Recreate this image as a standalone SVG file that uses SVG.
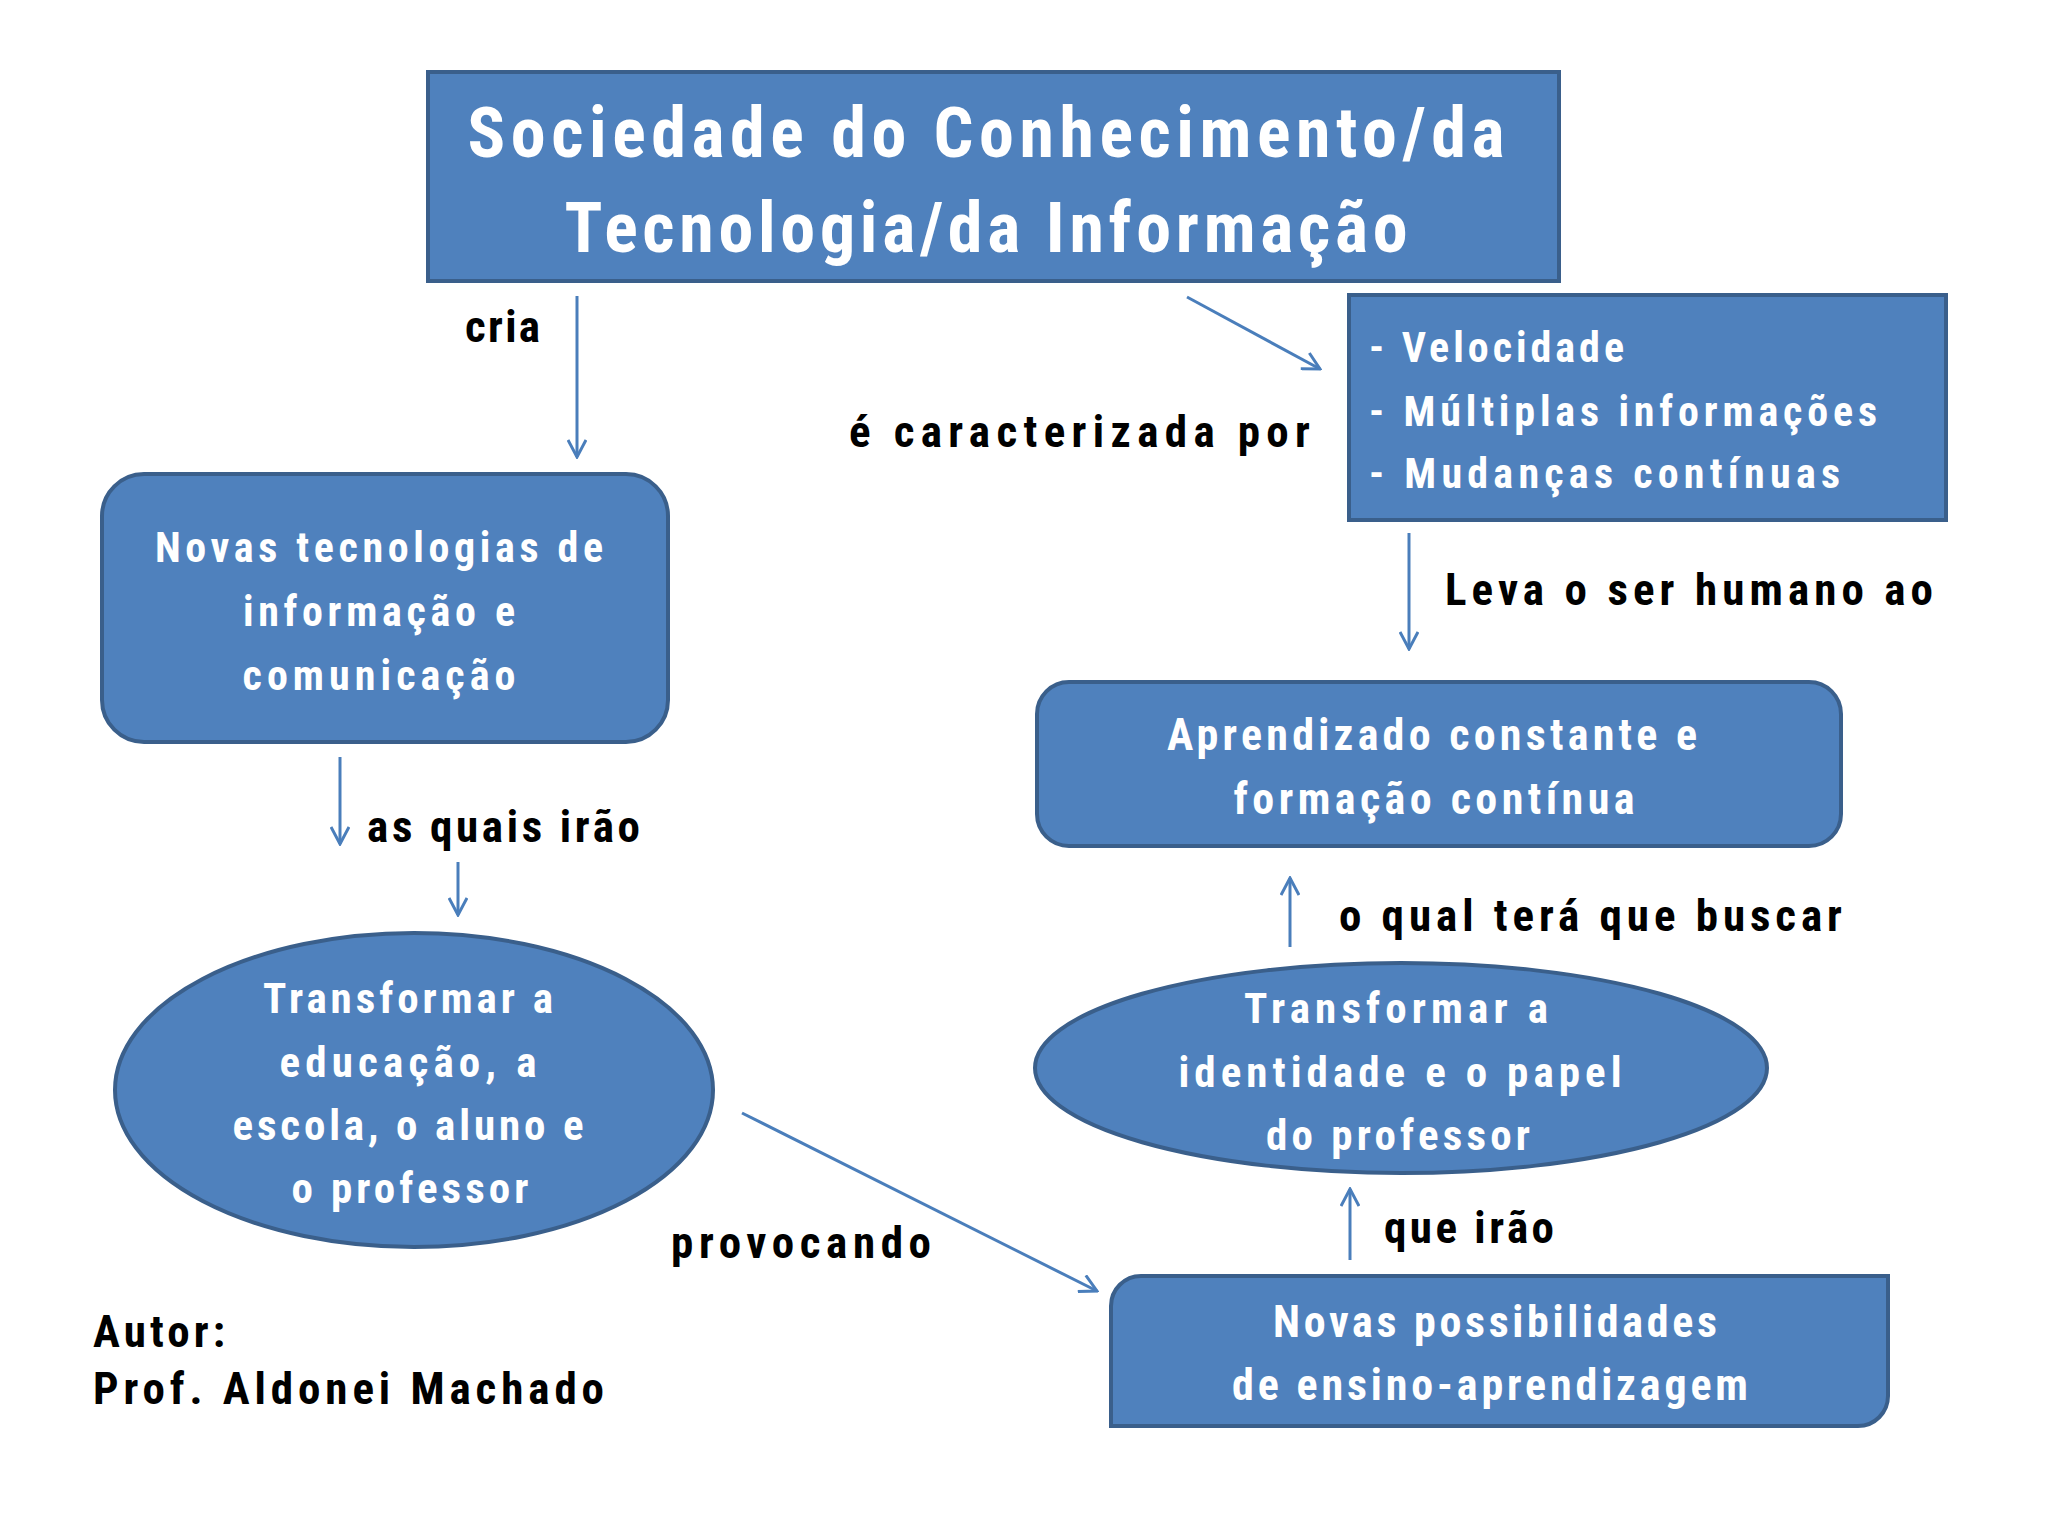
<svg xmlns="http://www.w3.org/2000/svg" width="2048" height="1535" viewBox="0 0 2048 1535">
<style>
.node{fill:#4F81BD;stroke:#3A5F8B;stroke-width:4}
.wt{fill:#FFFFFF;font-family:"Roboto","Liberation Sans",sans-serif;font-stretch:condensed;font-weight:bold;text-anchor:middle}
.wl{fill:#FFFFFF;font-family:"Roboto","Liberation Sans",sans-serif;font-stretch:condensed;font-weight:bold}
.lb{fill:#000000;font-family:"Roboto","Liberation Sans",Arial,sans-serif;font-stretch:condensed;font-weight:bold;font-size:45px}
.conn{stroke:#4A7EBB;stroke-width:3;fill:none}
</style>
<defs>
<marker id="arr" viewBox="0 0 20 20" refX="18" refY="10" markerWidth="20" markerHeight="20" markerUnits="userSpaceOnUse" orient="auto">
<path d="M1,1 L18,10 L1,19" fill="none" stroke="#4A7EBB" stroke-width="3"/>
</marker>
</defs>
<rect width="2048" height="1535" fill="#FFFFFF"/>

<g id="connectors">
<line class="conn" x1="577" y1="296" x2="577" y2="457" marker-end="url(#arr)"/>
<line class="conn" x1="1187" y1="297" x2="1320" y2="369" marker-end="url(#arr)"/>
<line class="conn" x1="1409" y1="533" x2="1409" y2="649" marker-end="url(#arr)"/>
<line class="conn" x1="340" y1="757" x2="340" y2="844" marker-end="url(#arr)"/>
<line class="conn" x1="458" y1="862" x2="458" y2="915" marker-end="url(#arr)"/>
<line class="conn" x1="742" y1="1113" x2="1097" y2="1291" marker-end="url(#arr)"/>
<line class="conn" x1="1290" y1="947" x2="1290" y2="878" marker-end="url(#arr)"/>
<line class="conn" x1="1350" y1="1260" x2="1350" y2="1189" marker-end="url(#arr)"/>
<text class="lb" x="465" y="342" textLength="75" lengthAdjust="spacing">cria</text>
<text class="lb" x="849" y="447" textLength="461" lengthAdjust="spacing">é caracterizada por</text>
<text class="lb" x="1445" y="605" textLength="488" lengthAdjust="spacing">Leva o ser humano ao</text>
<text class="lb" x="367" y="842" textLength="273" lengthAdjust="spacing">as quais irão</text>
<text class="lb" x="671" y="1258" textLength="260" lengthAdjust="spacing">provocando</text>
<text class="lb" x="1339" y="931" textLength="503" lengthAdjust="spacing">o qual terá que buscar</text>
<text class="lb" x="1384" y="1243" textLength="170" lengthAdjust="spacing">que irão</text>
</g>

<g id="node-sociedade">
<rect class="node" x="428" y="72" width="1131" height="209"/>
<text class="wt" font-size="70" x="986" y="157" textLength="1037" lengthAdjust="spacing">Sociedade do Conhecimento/da</text>
<text class="wt" font-size="70" x="986" y="252" textLength="843" lengthAdjust="spacing">Tecnologia/da Informação</text>
</g>

<g id="node-caracteristicas">
<rect class="node" x="1349" y="295" width="597" height="225"/>
<text class="wl" font-size="42" x="1369" y="362" textLength="255" lengthAdjust="spacing">- Velocidade</text>
<text class="wl" font-size="42" x="1369" y="426" textLength="508" lengthAdjust="spacing">- Múltiplas informações</text>
<text class="wl" font-size="42" x="1369" y="488" textLength="471" lengthAdjust="spacing">- Mudanças contínuas</text>
</g>

<g id="node-novas-tecnologias">
<rect class="node" x="102" y="474" width="566" height="268" rx="42" ry="42"/>
<text class="wt" font-size="42" x="379" y="562" textLength="448" lengthAdjust="spacing">Novas tecnologias de</text>
<text class="wt" font-size="42" x="379" y="626" textLength="272" lengthAdjust="spacing">informação e</text>
<text class="wt" font-size="42" x="379" y="690" textLength="273" lengthAdjust="spacing">comunicação</text>
</g>

<g id="node-aprendizado">
<rect class="node" x="1037" y="682" width="804" height="164" rx="32" ry="32"/>
<text class="wt" font-size="44" x="1432" y="750" textLength="530" lengthAdjust="spacing">Aprendizado constante e</text>
<text class="wt" font-size="44" x="1434" y="814" textLength="401" lengthAdjust="spacing">formação contínua</text>
</g>

<g id="node-transformar-educacao">
<ellipse class="node" cx="414" cy="1090" rx="299" ry="157"/>
<text class="wt" font-size="43" x="408" y="1013" textLength="290" lengthAdjust="spacing">Transformar a</text>
<text class="wt" font-size="43" x="408" y="1077" textLength="257" lengthAdjust="spacing">educação, a</text>
<text class="wt" font-size="43" x="408" y="1140" textLength="351" lengthAdjust="spacing">escola, o aluno e</text>
<text class="wt" font-size="43" x="410" y="1203" textLength="237" lengthAdjust="spacing">o professor</text>
</g>

<g id="node-transformar-identidade">
<ellipse class="node" cx="1401" cy="1068" rx="366" ry="105"/>
<text class="wt" font-size="43" x="1396" y="1023" textLength="304" lengthAdjust="spacing">Transformar a</text>
<text class="wt" font-size="43" x="1400" y="1087" textLength="443" lengthAdjust="spacing">identidade e o papel</text>
<text class="wt" font-size="43" x="1398" y="1150" textLength="264" lengthAdjust="spacing">do professor</text>
</g>

<g id="node-novas-possibilidades">
<path class="node" d="M1141,1276 H1888 V1396 A30,30 0 0 1 1858,1426 H1111 V1306 A30,30 0 0 1 1141,1276 Z"/>
<text class="wt" font-size="44" x="1495" y="1337" textLength="444" lengthAdjust="spacing">Novas possibilidades</text>
<text class="wt" font-size="44" x="1490" y="1400" textLength="516" lengthAdjust="spacing">de ensino-aprendizagem</text>
</g>

<g id="autor">
<text class="lb" font-size="46" x="93" y="1347" textLength="132" lengthAdjust="spacing">Autor:</text>
<text class="lb" font-size="46" x="93" y="1404" textLength="511" lengthAdjust="spacing">Prof. Aldonei Machado</text>
</g>
</svg>
